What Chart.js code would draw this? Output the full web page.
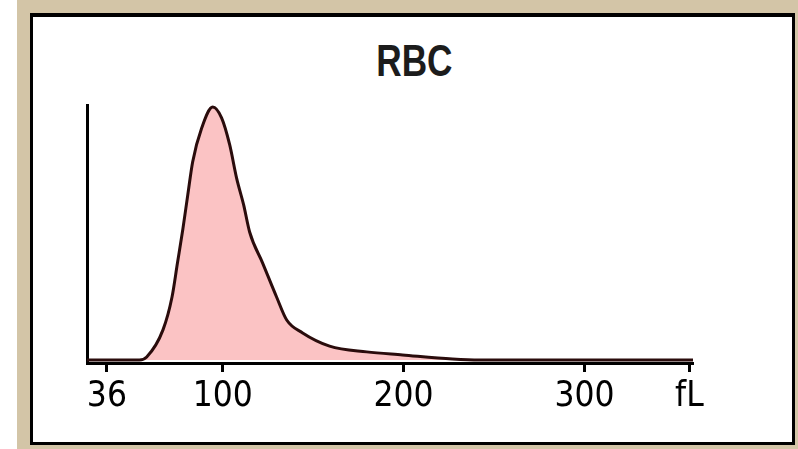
<!DOCTYPE html>
<html>
<head>
<meta charset="utf-8">
<title>RBC</title>
<script src="https://cdn.jsdelivr.net/npm/chart.js@4.4.1/dist/chart.umd.min.js"></script>
<style>
    html, body { margin: 0; padding: 0; background: #fff; overflow: hidden; }
    #frame {
        position: absolute; left: 17px; top: 0; width: 781px; height: 449px;
        background: #d3c5a7;
    }
    #panel {
        position: absolute; left: 30px; top: 13px; width: 759px; height: 425px;
        border: 3px solid #000; border-top-width: 4px; background: #fff;
    }
    #title {
        position: absolute; left: 0; top: 36px; width: 829px; text-align: center;
        font: bold 44px "Liberation Sans", Arial, sans-serif;
        color: #1c1c1c;
        transform: scaleX(0.8);
        transform-origin: 414px 0;
    }
    #chart { position: absolute; left: 0; top: 0; }
</style>
</head>
<body>
<div id="frame"></div>
<div id="panel"></div>
<div id="title">RBC</div>
<canvas id="chart" width="798" height="449"></canvas>
<script>
// Histogramme RBC (volume en fL, fréquence relative)
const volumesFL = [25, 54, 58, 67, 72, 75, 78, 80.7, 83.4, 88.4, 94.5, 99.4, 103.9, 107.7, 111.6, 114.9, 122.1, 129.8, 135.4, 144.2, 159.1, 179.6, 199.4, 227, 242, 360];
const frequences = [0, 0, 1.2, 11.9, 24.9, 38.3, 51.8, 65.2, 78.3, 91.7, 100, 95.7, 85, 71.9, 61.3, 50.6, 38.3, 24.9, 15.8, 10.7, 5.5, 3.2, 2.0, 0.4, 0, 0];
const tickValues = [36, 100, 200, 300, 358];
const tickLabels = ['36', '100', '200', '300', 'fL'];

const policeAxe = '"DejaVu Sans Condensed", "Liberation Sans", Arial, sans-serif';

document.addEventListener('DOMContentLoaded', function() {
    const ctx = document.getElementById('chart');
    new Chart(ctx, {
        type: 'line',
        data: {
            datasets: [{
                data: volumesFL.map((v, i) => ({ x: v, y: frequences[i] })),
                borderColor: '#2a0c0c',
                borderWidth: 3,
                backgroundColor: '#fbc3c4',
                fill: 'origin',
                pointRadius: 0,
                cubicInterpolationMode: 'monotone'
            }]
        },
        options: {
            responsive: false,
            animation: false,
            events: [],
            layout: { padding: { left: 87, right: 105, top: 105, bottom: 0 } },
            plugins: {
                legend: { display: false },
                tooltip: { enabled: false },
                title: { display: false }
            },
            scales: {
                x: {
                    type: 'linear',
                    min: 25,
                    max: 360,
                    afterBuildTicks: function(scale) {
                        scale.ticks = tickValues.map(v => ({ value: v }));
                    },
                    afterFit: function(scale) { scale.height = 86; },
                    ticks: {
                        autoSkip: false,
                        maxRotation: 0,
                        padding: 7,
                        color: '#000',
                        font: { family: policeAxe, size: 35, lineHeight: 1 },
                        callback: function(value) {
                            const i = tickValues.indexOf(value);
                            return i >= 0 ? tickLabels[i] : '';
                        }
                    },
                    grid: {
                        drawOnChartArea: false,
                        drawTicks: true,
                        tickLength: 9,
                        tickWidth: 3,
                        color: '#000'
                    },
                    border: { display: true, color: '#000', width: 3 }
                },
                y: {
                    min: -1.2,
                    max: 100.8,
                    afterFit: function(scale) { scale.width = 0; },
                    ticks: { display: false },
                    grid: { display: false },
                    border: { display: true, color: '#000', width: 3 }
                }
            }
        }
    });
});
</script>
</body>
</html>
